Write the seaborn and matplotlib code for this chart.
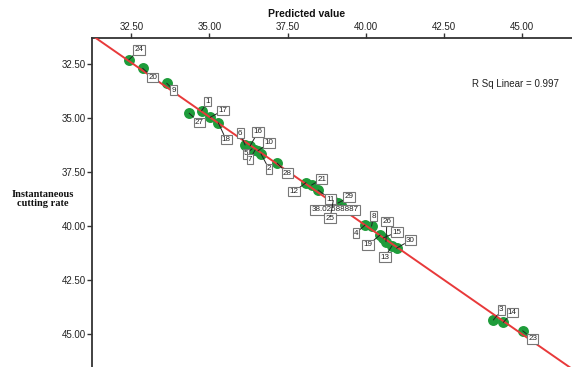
import numpy as np
import pandas as pd
import seaborn as sns
import matplotlib
matplotlib.use("Agg")
import matplotlib.pyplot as plt
from matplotlib.ticker import FormatStrFormatter

# ---- data -------------------------------------------------------------
case_labels = ["24", "20", "9", "27", "1", "17", "18", "6", "16", "5",
               "7", "10", "2", "28", "12", "21", "11", "29", "38.02588887", "25",
               "4", "8", "26", "15", "19", "30", "13", "3", "14", "23"]
predicted = [32.42, 32.86, 33.63, 34.35, 34.75, 35.02, 35.28, 36.14, 36.30, 36.36,
             36.46, 36.55, 36.65, 37.17, 38.09, 38.27, 38.48, 39.12, 39.21, 38.96,
             39.98, 40.19, 40.65, 40.56, 40.46, 40.99, 40.84, 44.09, 44.41, 45.03]
cutting_rate = [32.31, 32.70, 33.39, 34.78, 34.66, 34.97, 35.22, 36.25, 36.29, 36.43,
                36.48, 36.52, 36.66, 37.09, 37.99, 38.10, 38.33, 38.93, 39.02, 38.84,
                39.95, 40.00, 40.72, 40.55, 40.41, 41.02, 40.92, 44.34, 44.45, 44.84]
# label placement (pixels, right / down from the point)
label_dx = [10, 10, 7, 10, 6, 13, 8, -5, 8, -6,
            -5, 11, 8, 10, -12, 10, 12, 11, -6, -3,
            -9, 2, 1, 14, -12, 14, -7, 8, 9, 10]
label_dy = [-10, 9, 7, 9, -9, -7, 17, -12, -14, 5,
            9, -8, 15, 10, 9, -6, 9, -6, 5, 17,
            8, -10, -20, -6, 10, -8, 11, -10, -10, 8]
ticks = [32.5, 35.0, 37.5, 40.0, 42.5, 45.0]
r_sq = 0.997

df = pd.DataFrame({"Predicted value": predicted, "Instantaneous cutting rate": cutting_rate})

# ---- style ------------------------------------------------------------
sns.set_theme(style="white")
plt.rcParams["font.family"] = ["Liberation Sans", "DejaVu Sans"]

W, H = 572, 367
fig = plt.figure(figsize=(W / 100, H / 100), dpi=100)
ax = fig.add_axes([92 / W, -3 / H, (575 - 92) / W, (H - 38 + 3) / H])

xlim = (31.238, 46.704)
ylim = (46.653, 31.30)
ax.set_xlim(xlim)
ax.set_ylim(ylim)

green = "#1e9c3a"
sns.regplot(data=df, x="Predicted value", y="Instantaneous cutting rate", ax=ax,
            ci=None, truncate=False,
            scatter_kws=dict(s=62, color=green, alpha=1, linewidths=0, zorder=2),
            line_kws=dict(color="#e8393a", lw=1.4, zorder=3))
ax.set_xlim(xlim)
ax.set_ylim(ylim)

# case labels with leader lines
for lab, x, y, dx, dy in zip(case_labels, predicted, cutting_rate, label_dx, label_dy):
    ax.annotate(lab, xy=(x, y), xytext=(dx, -dy), textcoords="offset pixels",
                ha="center", va="center", fontsize=5.8, color="#222222",
                bbox=dict(boxstyle="square,pad=0.15", fc="white", ec="#777777", lw=0.8),
                arrowprops=dict(arrowstyle="-", color="#222222", lw=0.7,
                                shrinkA=0, shrinkB=0),
                zorder=4)

# axes styling
ax.xaxis.tick_top()
ax.set_xticks(ticks)
ax.set_yticks(ticks)
ax.xaxis.set_major_formatter(FormatStrFormatter("%.2f"))
ax.yaxis.set_major_formatter(FormatStrFormatter("%.2f"))
ax.tick_params(axis="both", which="major", direction="out", length=3.6, width=1.0,
               color="#333333", labelsize=7, labelcolor="#222222", pad=0.8)
ax.tick_params(axis="x", top=True, bottom=False, labeltop=True, labelbottom=False)
ax.tick_params(axis="y", left=True)
for side in ("top", "left"):
    ax.spines[side].set_color("#333333")
    ax.spines[side].set_linewidth(1.3)
for side in ("bottom", "right"):
    ax.spines[side].set_visible(False)
ax.set_xlabel("")
ax.set_ylabel("")

fig.text(306.6 / W, 1 - 14 / H, "Predicted value", ha="center", va="center",
         fontsize=7.5, fontweight="bold", color="#111111")
fig.text(43 / W, 1 - 199 / H, "Instantaneous\ncutting rate", ha="center", va="center",
         fontsize=7.5, fontweight="bold", color="#111111", linespacing=1.0,
         family=["Liberation Serif", "DejaVu Serif"])
fig.text(471.7 / W, 1 - 84 / H, f"R Sq Linear = {r_sq:.3f}", ha="left", va="center",
         fontsize=7, color="#222222")

fig.savefig("out.png", dpi=100)
